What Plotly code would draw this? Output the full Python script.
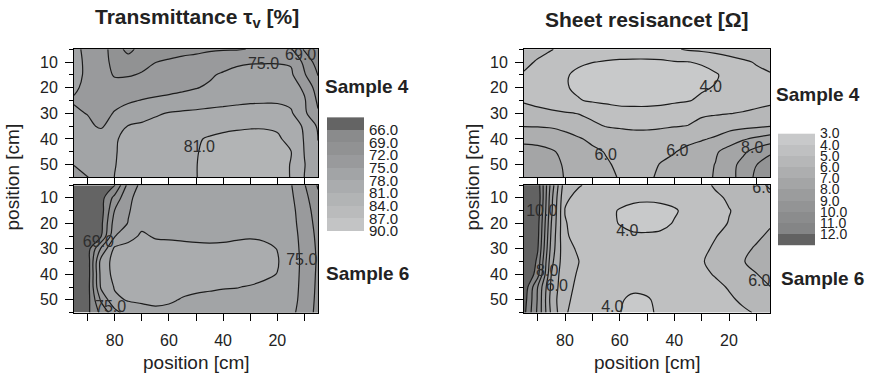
import plotly.graph_objects as go

# Measurement grid (cm); x runs 95 -> 5, y runs 5 -> 55
pos_x = [95, 90, 85, 80, 75, 70, 65, 60, 55, 50, 45, 40, 35, 30, 25, 20, 15, 10, 5]
pos_y = [5, 10, 15, 20, 25, 30, 35, 40, 45, 50, 55]

# Transmittance tau_v [%], sample 4 (rows follow pos_y, columns follow pos_x)
trans_s4 = [
    [76.0, 74.0, 73.0, 71.0, 67.8, 70.5, 71.0, 71.0, 71.3, 71.5, 71.7, 71.8, 71.8, 72.1, 73.5, 73.5, 72.3, 68.6, 66.5],
    [75.8, 74.5, 73.0, 71.3, 71.0, 71.3, 71.95, 72.3, 72.6, 72.8, 73.3, 74.0, 74.6, 74.8, 74.8, 74.8, 74.7, 71.3, 67.5],
    [75.5, 74.7, 73.5, 71.7, 71.8, 72.2, 73.0, 73.5, 73.8, 74.2, 74.7, 75.3, 75.7, 76.0, 76.2, 76.2, 75.5, 72.3, 68.9],
    [75.3, 74.5, 74.0, 73.3, 73.2, 73.6, 74.0, 74.3, 74.6, 74.9, 75.3, 76.0, 76.4, 76.7, 76.8, 76.8, 76.3, 74.5, 70.5],
    [74.8, 74.0, 73.6, 74.2, 74.7, 75.1, 75.4, 75.6, 75.8, 76.2, 76.7, 77.1, 77.4, 77.6, 77.7, 77.7, 77.3, 75.3, 71.5],
    [75.4, 74.9, 74.0, 75.2, 76.0, 76.6, 77.6, 78.2, 78.5, 78.7, 78.9, 79.0, 79.1, 79.2, 79.1, 79.0, 78.4, 75.6, 72.3],
    [75.8, 75.6, 74.6, 76.5, 78.1, 78.6, 79.0, 79.4, 79.7, 80.0, 80.3, 80.5, 80.7, 80.8, 80.8, 80.6, 79.5, 77.6, 74.6],
    [76.2, 76.5, 76.8, 77.7, 78.8, 79.3, 79.8, 80.2, 80.5, 80.8, 81.2, 81.5, 81.6, 81.7, 81.7, 81.4, 80.2, 77.8, 74.9],
    [75.5, 76.0, 76.6, 77.8, 78.9, 79.5, 80.0, 80.3, 80.6, 80.9, 81.4, 81.8, 82.0, 82.1, 82.1, 81.9, 81.1, 77.9, 75.8],
    [75.1, 75.8, 76.5, 77.9, 78.9, 79.6, 80.1, 80.4, 80.7, 80.95, 81.5, 82.0, 82.2, 82.3, 82.2, 82.0, 80.9, 78.1, 76.0],
    [73.5, 74.9, 76.3, 78.05, 78.9, 79.6, 80.1, 80.4, 80.7, 80.95, 81.5, 82.0, 82.2, 82.3, 82.2, 82.0, 80.9, 77.95, 76.2],
]

# Transmittance tau_v [%], sample 6
trans_s6 = [
    [64.0, 64.5, 65.0, 65.8, 73.0, 75.8, 76.5, 76.8, 77.0, 77.0, 77.0, 77.0, 77.0, 77.0, 76.8, 76.5, 75.2, 72.2, 68.7],
    [64.0, 64.4, 64.8, 70.0, 74.5, 76.0, 76.8, 77.1, 77.3, 77.3, 77.3, 77.3, 77.3, 77.3, 77.1, 76.8, 75.5, 73.0, 69.6],
    [64.0, 64.3, 64.7, 72.1, 74.8, 76.2, 77.0, 77.3, 77.5, 77.5, 77.5, 77.5, 77.5, 77.5, 77.3, 77.0, 75.8, 73.4, 70.5],
    [64.0, 64.3, 65.2, 73.5, 75.1, 77.5, 77.2, 77.6, 77.8, 77.8, 77.8, 77.8, 77.8, 77.8, 77.7, 77.4, 76.0, 73.6, 71.0],
    [64.0, 64.4, 65.8, 74.8, 77.3, 78.3, 77.8, 77.7, 77.6, 77.5, 77.4, 77.5, 77.7, 77.8, 77.6, 77.2, 76.2, 73.9, 71.3],
    [64.0, 64.5, 72.5, 78.6, 78.7, 78.8, 78.7, 78.7, 78.6, 78.5, 78.5, 78.5, 78.6, 78.7, 78.6, 77.95, 76.3, 74.1, 71.5],
    [64.0, 64.2, 76.2, 79.0, 79.1, 79.1, 79.0, 79.0, 78.9, 78.9, 78.9, 78.9, 78.9, 78.9, 78.8, 78.2, 76.4, 74.2, 71.6],
    [64.0, 64.2, 76.0, 78.9, 79.0, 79.0, 78.9, 78.9, 78.8, 78.8, 78.7, 78.6, 78.6, 78.6, 78.4, 77.95, 76.4, 74.1, 71.5],
    [64.0, 64.5, 75.5, 78.2, 78.7, 78.8, 78.7, 78.6, 78.4, 78.3, 78.2, 78.1, 78.05, 77.9, 77.6, 77.4, 76.3, 74.0, 71.4],
    [64.2, 64.8, 72.5, 77.5, 78.2, 78.3, 78.4, 78.2, 77.9, 77.7, 77.6, 77.5, 77.5, 77.4, 77.3, 77.2, 76.2, 73.8, 71.3],
    [64.5, 65.3, 69.8, 73.9, 76.5, 77.3, 77.6, 77.6, 77.5, 77.3, 77.2, 77.2, 77.2, 77.1, 77.0, 76.8, 75.8, 73.5, 71.2],
]

# Sheet resistance [Ohm], sample 4
res_s4 = [
    [5.6, 5.3, 5.05, 4.7, 4.5, 4.45, 4.42, 4.4, 4.4, 4.4, 4.45, 4.9, 5.1, 5.2, 5.3, 5.35, 5.4, 5.45, 5.5],
    [5.25, 4.9, 4.6, 4.3, 4.15, 4.02, 3.95, 3.9, 3.88, 3.88, 3.9, 3.95, 3.98, 4.1, 4.4, 4.7, 4.9, 5.05, 5.2],
    [4.9, 4.7, 4.4, 4.1, 3.8, 3.6, 3.5, 3.45, 3.4, 3.4, 3.45, 3.5, 3.6, 3.7, 3.9, 4.3, 4.6, 4.85, 4.95],
    [4.75, 4.55, 4.3, 4.07, 3.85, 3.65, 3.55, 3.5, 3.5, 3.5, 3.55, 3.65, 3.75, 3.9, 4.05, 4.3, 4.5, 4.65, 4.75],
    [4.9, 4.7, 4.45, 4.25, 4.05, 3.9, 3.8, 3.7, 3.7, 3.7, 3.75, 3.85, 3.95, 4.15, 4.35, 4.5, 4.65, 4.75, 4.85],
    [5.4, 5.3, 5.2, 5.08, 4.97, 4.75, 4.55, 4.4, 4.35, 4.35, 4.4, 4.55, 4.75, 4.9, 4.93, 4.98, 5.05, 5.15, 5.25],
    [5.97, 5.95, 5.9, 5.7, 5.45, 5.2, 4.97, 4.9, 4.85, 4.85, 4.9, 4.97, 5.02, 5.2, 5.4, 5.6, 5.75, 5.85, 5.97],
    [6.8, 6.75, 6.6, 6.4, 6.1, 5.8, 5.6, 5.45, 5.35, 5.35, 5.4, 5.5, 5.7, 5.9, 6.15, 6.6, 6.9, 7.2, 7.5],
    [7.3, 7.25, 7.1, 6.8, 6.5, 6.2, 5.95, 5.7, 5.55, 5.6, 5.75, 5.95, 6.3, 6.6, 6.9, 7.3, 7.8, 8.4, 8.8],
    [7.6, 7.5, 7.3, 6.9, 6.6, 6.35, 6.1, 5.85, 5.65, 5.7, 6.05, 6.3, 6.5, 6.75, 7.02, 7.6, 8.3, 8.98, 9.6],
    [7.7, 7.6, 7.4, 6.95, 6.7, 6.4, 6.2, 5.95, 5.7, 5.85, 6.15, 6.4, 6.6, 6.8, 7.05, 7.6, 8.4, 9.2, 9.7],
]

# Sheet resistance [Ohm], sample 6
res_s6 = [
    [13.5, 12.6, 8.6, 5.4, 5.05, 4.85, 4.6, 4.45, 4.35, 4.3, 4.3, 4.35, 4.5, 4.75, 5.1, 5.4, 5.6, 5.8, 6.1],
    [13.6, 12.8, 8.3, 5.12, 4.8, 4.6, 4.45, 4.25, 4.15, 4.12, 4.15, 4.25, 4.4, 4.6, 4.85, 5.1, 5.35, 5.55, 5.8],
    [13.7, 12.6, 8.2, 4.97, 4.7, 4.45, 4.2, 3.95, 3.8, 3.75, 3.8, 3.92, 4.2, 4.45, 4.7, 4.97, 5.2, 5.45, 5.7],
    [13.8, 12.4, 8.0, 5.05, 4.7, 4.45, 4.2, 3.97, 3.8, 3.75, 3.8, 4.05, 4.3, 4.55, 4.8, 5.03, 5.35, 5.65, 5.9],
    [13.9, 12.3, 7.8, 5.1, 4.75, 4.5, 4.35, 4.2, 4.1, 4.1, 4.15, 4.25, 4.45, 4.7, 4.97, 5.2, 5.5, 5.85, 6.15],
    [14.0, 12.1, 7.6, 5.25, 4.9, 4.65, 4.45, 4.3, 4.25, 4.25, 4.3, 4.4, 4.6, 4.85, 5.1, 5.4, 5.8, 6.1, 6.4],
    [14.0, 11.7, 7.3, 5.3, 5.01, 4.75, 4.55, 4.4, 4.35, 4.35, 4.4, 4.5, 4.7, 4.95, 5.2, 5.5, 5.95, 6.25, 6.5],
    [13.5, 11.4, 7.0, 5.2, 4.95, 4.7, 4.5, 4.35, 4.3, 4.3, 4.35, 4.45, 4.65, 4.85, 5.05, 5.4, 5.7, 5.97, 6.3],
    [12.8, 10.0, 6.8, 5.15, 4.9, 4.6, 4.4, 4.2, 4.1, 4.1, 4.15, 4.3, 4.5, 4.7, 4.85, 5.05, 5.35, 5.65, 5.98],
    [12.5, 9.9, 6.6, 5.1, 4.85, 4.55, 4.3, 4.05, 3.9, 3.96, 4.1, 4.25, 4.45, 4.6, 4.75, 4.9, 5.1, 5.4, 5.7],
    [12.3, 9.8, 6.8, 5.05, 4.8, 4.5, 4.2, 4.02, 3.8, 3.9, 4.1, 4.25, 4.4, 4.55, 4.7, 4.82, 4.9, 5.05, 5.4],
]

# Contour levels and legend bands
trans_levels = [66, 69, 72, 75, 78, 81, 84, 87]
trans_bar_edges = [63, 66, 69, 72, 75, 78, 81, 84, 87, 90]
trans_bar_ticks = [66, 69, 72, 75, 78, 81, 84, 87, 90]
res_levels = [4, 5, 6, 7, 8, 9, 10, 11, 12]
res_bar_edges = [3, 4, 5, 6, 7, 8, 9, 10, 11, 12, 13]
res_bar_ticks = [3, 4, 5, 6, 7, 8, 9, 10, 11, 12]

# One grey per band, low value first
trans_colors = ["#646464", "#8a8b8c", "#919293", "#999a9c", "#a2a4a6",
                "#aaacae", "#b2b4b5", "#babbbc", "#c3c4c5"]
res_colors = ["#c8c9ca", "#bfc0c1", "#b6b7b8", "#adaeaf", "#a4a5a6",
              "#9b9c9d", "#939495", "#8b8c8d", "#848586", "#626262"]

# Inline contour labels: (x, y, text)
labels_trans_s4 = [(25.1, 11.0, "75.0"), (11.4, 7.6, "69.0"), (48.8, 43.4, "81.0")]
labels_trans_s6 = [(86.0, 27.9, "69.0"), (11.0, 34.8, "75.0"), (81.5, 53.2, "75.0")]
labels_res_s4 = [(26.7, 20.0, "4.0"), (65.1, 46.8, "6.0"), (38.9, 44.9, "6.0"), (11.5, 43.9, "8.0")]
labels_res_s6 = [(88.5, 15.4, "10.0"), (86.5, 39.2, "8.0"), (83.0, 44.8, "6.0"),
                 (57.2, 23.5, "4.0"), (62.7, 53.4, "4.0"), (8.9, 43.0, "6.0"), (7.4, 6.6, "6.0")]

FONT = "Liberation Sans, Arial, Helvetica, sans-serif"
W, H = 871, 377


def scale(colors):
    n = len(colors) - 1
    return [[i / n, c] for i, c in enumerate(colors)]


def ascending(grid):
    # pos_x is stored high -> low; hand the trace increasing x
    return [row[::-1] for row in grid]


xs = pos_x[::-1]

fig = go.Figure()


def add_panel(grid, levels, colors, labels, ax):
    step = levels[1] - levels[0]
    fig.add_trace(go.Contour(
        x=xs, y=pos_y, z=ascending(grid),
        autocontour=False,
        contours=dict(start=levels[0], end=levels[-1], size=step,
                      coloring="fill", showlabels=False),
        colorscale=scale(colors), showscale=False,
        line=dict(color="#1c1c1c", width=1.2, smoothing=1),
        hoverinfo="skip",
        xaxis="x" + ax, yaxis="y" + ax,
    ))
    fig.add_trace(go.Scatter(
        x=[p[0] for p in labels], y=[p[1] for p in labels],
        text=[p[2] for p in labels], mode="text",
        textfont=dict(family=FONT, size=16, color="#2e2e2e"),
        cliponaxis=True, showlegend=False, hoverinfo="skip",
        xaxis="x" + ax, yaxis="y" + ax,
    ))


add_panel(trans_s4, trans_levels, trans_colors, labels_trans_s4, "")
add_panel(trans_s6, trans_levels, trans_colors, labels_trans_s6, "2")
add_panel(res_s4, res_levels, res_colors, labels_res_s4, "3")
add_panel(res_s6, res_levels, res_colors, labels_res_s6, "4")

# Legend bars: one cell per band
fig.add_trace(go.Heatmap(
    x=[0, 1], y=trans_bar_edges, z=[[i] for i in range(len(trans_colors))],
    colorscale=scale(trans_colors), zmin=0, zmax=len(trans_colors) - 1,
    showscale=False, hoverinfo="skip", xaxis="x5", yaxis="y5",
))
fig.add_trace(go.Heatmap(
    x=[0, 1], y=res_bar_edges, z=[[i] for i in range(len(res_colors))],
    colorscale=scale(res_colors), zmin=0, zmax=len(res_colors) - 1,
    showscale=False, hoverinfo="skip", xaxis="x6", yaxis="y6",
))


def xd(a, b):
    return [a / W, b / W]


def yd(top, bottom):
    return [1 - bottom / H, 1 - top / H]


tickfont = dict(family=FONT, size=16, color="#222222")


def xaxis(dom, anchor, labels):
    return dict(domain=dom, anchor=anchor, range=[95, 5],
                tickvals=[80, 60, 40, 20], showticklabels=labels,
                ticks="outside", ticklen=7, tickwidth=1, tickcolor="black",
                minor=dict(dtick=10, tick0=0, ticks="outside", ticklen=7,
                           tickwidth=1, tickcolor="black"),
                showline=True, mirror=True, linecolor="black", linewidth=1,
                showgrid=False, zeroline=False, tickfont=tickfont,
                ticklabelstandoff=6)


def yaxis(dom, anchor):
    return dict(domain=dom, anchor=anchor, range=[55, 5],
                tickvals=[10, 20, 30, 40, 50],
                ticks="outside", ticklen=8, tickwidth=1, tickcolor="black",
                minor=dict(dtick=5, tick0=0, ticks="outside", ticklen=4,
                           tickwidth=1, tickcolor="black"),
                showline=True, mirror=True, linecolor="black", linewidth=1,
                showgrid=False, zeroline=False, tickfont=tickfont,
                ticklabelstandoff=4)


fig.update_layout(
    width=W, height=H,
    margin=dict(l=0, r=0, t=0, b=0),
    paper_bgcolor="white", plot_bgcolor="white",
    showlegend=False,
    xaxis=xaxis(xd(74, 318), "y", False),
    yaxis=yaxis(yd(43, 177), "x"),
    xaxis2=xaxis(xd(74, 318), "y2", True),
    yaxis2=yaxis(yd(185, 318), "x2"),
    xaxis3=xaxis(xd(524, 770), "y3", False),
    yaxis3=yaxis(yd(43, 177), "x3"),
    xaxis4=xaxis(xd(524, 770), "y4", True),
    yaxis4=yaxis(yd(185, 318), "x4"),
    xaxis5=dict(domain=xd(327, 364), anchor="y5", range=[0, 1], visible=False),
    yaxis5=dict(domain=yd(114, 233), anchor="x5", range=[90, 63], side="right",
                tickvals=trans_bar_ticks, ticktext=[f"{v:.1f}" for v in trans_bar_ticks],
                ticks="", showline=False, showgrid=False, zeroline=False,
                tickfont=dict(family=FONT, size=15, color="#222222"),
                ticklabelstandoff=4),
    xaxis6=dict(domain=xd(778, 815), anchor="y6", range=[0, 1], visible=False),
    yaxis6=dict(domain=yd(131, 248), anchor="x6", range=[13, 3], side="right",
                tickvals=res_bar_ticks, ticktext=[f"{v:.1f}" for v in res_bar_ticks],
                ticks="", showline=False, showgrid=False, zeroline=False,
                tickfont=dict(family=FONT, size=14, color="#222222"),
                ticklabelstandoff=4),
)

annots = [
    (197, 10, "<b>Transmittance τ<sub>v</sub> [%]</b>", 21, 0),
    (647, 12, "<b>Sheet resisancet [Ω]</b>", 21, 0),
    (367, 82, "<b>Sample 4</b>", 19, 0),
    (818, 90, "<b>Sample 4</b>", 19, 0),
    (367, 277, "<b>Sample 6</b>", 19, 0),
    (822, 282, "<b>Sample 6</b>", 19, 0),
    (196, 370, "position [cm]", 19, 0),
    (647, 370, "position [cm]", 19, 0),
    (12, 177, "position [cm]", 19, -90),
    (472, 177, "position [cm]", 19, -90),
]
for px, py, text, size, ang in annots:
    fig.add_annotation(x=px / W, y=1 - py / H, xref="paper", yref="paper",
                       text=text, showarrow=False, textangle=ang,
                       xanchor="center", yanchor="middle",
                       font=dict(family=FONT, size=size, color="#222222"))

fig.write_html("out.html")
